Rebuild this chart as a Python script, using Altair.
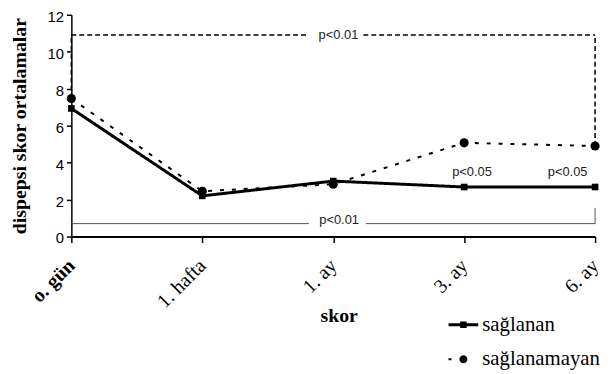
import json
import altair as alt
import pandas as pd

# ---- data ----
categories = ["o. gün", "1. hafta", "1. ay", "3. ay", "6. ay"]
series_names = ["sağlanan", "sağlanamayan"]
saglanan = [6.93, 2.2, 3.0, 2.68, 2.68]
saglanamayan = [7.47, 2.45, 2.83, 5.07, 4.9]
y_ticks = [0, 2, 4, 6, 8, 10, 12]

# significance brackets (x as category index, y in score units)
top_seg_x = [0.0, 2.23]
top_seg_x2 = [1.815, 4.0]
top_y = 10.9
top_vert_x = [0.0, 4.0]
top_vert_y = [7.47, 4.9]
bot_seg_x = [0.0, 2.25]
bot_seg_x2 = [1.815, 4.0]
bot_y = 0.7
bot_vert_x = [4.0]
bot_vert_y2 = [1.55]
p_text = ["p<0.01", "p<0.01", "p<0.05", "p<0.05"]
p_x = [2.04, 2.045, 3.06, 3.79]
p_y = [10.9, 0.9, 3.47, 3.47]

rows = []
for i, c in enumerate(categories):
    rows.append({"x": i, "skor": c, "series": series_names[0], "y": saglanan[i]})
    rows.append({"x": i, "skor": c, "series": series_names[1], "y": saglanamayan[i]})
df = pd.DataFrame(rows)

top_h = pd.DataFrame({"x": top_seg_x, "x2": top_seg_x2, "y": [top_y] * 2, "y2": [top_y] * 2})
top_v = pd.DataFrame({"x": top_vert_x, "x2": top_vert_x, "y": top_vert_y, "y2": [top_y] * 2})
bot_h = pd.DataFrame({"x": bot_seg_x, "x2": bot_seg_x2, "y": [bot_y] * 2, "y2": [bot_y] * 2})
bot_v = pd.DataFrame({"x": bot_vert_x, "x2": bot_vert_x, "y": [bot_y], "y2": bot_vert_y2})
ptxt = pd.DataFrame({"x": p_x, "y": p_y, "t": p_text})

label_expr = json.dumps(categories, ensure_ascii=False) + "[round(datum.value)]"

x_scale = alt.Scale(domain=[0, 4], nice=False, zero=False)
y_scale = alt.Scale(domain=[0, 12], nice=False, zero=False)

x_axis = alt.Axis(
    values=list(range(len(categories))),
    labelExpr=label_expr,
    labelAngle=-45,
    labelAlign="right",
    labelBaseline="middle",
    labelFont="Liberation Serif",
    labelFontSize=20,
    labelFontWeight=alt.expr("datum.value == 0 ? 'bold' : 'normal'"),
    labelColor="black",
    labelPadding=20,
    labelOverlap=False,
    labelBound=False,
    labelFlush=False,
    tickSize=6,
    tickWidth=1.5,
    tickColor="black",
    domainColor="black",
    domainWidth=2,
    grid=False,
    title="skor",
    titleFont="Liberation Serif",
    titleFontSize=20,
    titleFontWeight="bold",
    titleColor="black",
    titleBaseline="middle",
    titleAlign="center",
    titleX=270,
    titleY=80,
)
y_axis = alt.Axis(
    values=y_ticks,
    tickCount=len(y_ticks),
    labelFont="Liberation Sans",
    labelFontSize=15,
    labelColor="black",
    labelPadding=3,
    labelOffset=1.5,
    labelOverlap=False,
    labelBound=False,
    labelFlush=False,
    tickSize=5,
    tickWidth=1.5,
    tickColor="black",
    domainColor="black",
    domainWidth=1.5,
    grid=False,
    title="dispepsi skor ortalamalar",
    titleFont="Liberation Serif",
    titleFontSize=20,
    titleFontWeight="bold",
    titleColor="black",
    titlePadding=18,
)


def X(field="x"):
    return alt.X(f"{field}:Q", scale=x_scale, axis=x_axis)


def Y(field="y"):
    return alt.Y(f"{field}:Q", scale=y_scale, axis=y_axis)


base = alt.Chart(df)

lines = base.mark_line(color="black").encode(
    x=X(),
    y=Y(),
    detail="series:N",
    strokeDash=alt.StrokeDash(
        "series:N",
        scale=alt.Scale(domain=series_names, range=[[1, 0], [4, 8]]),
        legend=None,
    ),
    strokeWidth=alt.StrokeWidth(
        "series:N",
        scale=alt.Scale(domain=series_names, range=[3, 2]),
        legend=None,
    ),
)

points = base.mark_point(filled=True, color="black", opacity=1).encode(
    x=X(),
    y=Y(),
    shape=alt.Shape(
        "series:N",
        scale=alt.Scale(domain=series_names, range=["square", "circle"]),
        legend=None,
    ),
    size=alt.Size(
        "series:N",
        scale=alt.Scale(domain=series_names, range=[45, 85]),
        legend=None,
    ),
)

sym_line_square = (
    "M -1 -0.1 L 1 -0.1 L 1 0.1 L -1 0.1 Z "
    "M -0.22 -0.22 L 0.22 -0.22 L 0.22 0.22 L -0.22 0.22 Z"
)
sym_dash_circle = (
    "M -1 -0.07 L -0.8 -0.07 L -0.8 0.07 L -1 0.07 Z "
    "M 0.27 0 A 0.27 0.27 0 1 1 -0.27 0 A 0.27 0.27 0 1 1 0.27 0 Z"
)

legend_layer = base.mark_point(filled=True, color="black", opacity=0).encode(
    x=X(),
    y=Y(),
    shape=alt.Shape(
        "series:N",
        scale=alt.Scale(domain=series_names, range=[sym_line_square, sym_dash_circle]),
        legend=alt.Legend(
            orient="none",
            legendX=381,
            legendY=298,
            title=None,
            symbolSize=900,
            symbolFillColor="black",
            symbolStrokeWidth=0,
            symbolOpacity=1,
            labelFont="Liberation Serif",
            labelFontSize=21,
            labelColor="black",
            labelOffset=4,
            rowPadding=10,
            padding=0,
        ),
    ),
)

rule_style = dict(color="black", strokeWidth=1.5, strokeDash=[5, 3])
top_h_l = alt.Chart(top_h).mark_rule(**rule_style).encode(x=X(), x2="x2:Q", y=Y(), y2="y2:Q")
top_v_l = alt.Chart(top_v).mark_rule(**rule_style).encode(x=X(), x2="x2:Q", y=Y(), y2="y2:Q")
bot_style = dict(color="#555555", strokeWidth=1)
bot_h_l = alt.Chart(bot_h).mark_rule(**bot_style).encode(x=X(), x2="x2:Q", y=Y(), y2="y2:Q")
bot_v_l = alt.Chart(bot_v).mark_rule(**bot_style).encode(x=X(), x2="x2:Q", y=Y(), y2="y2:Q")

texts = alt.Chart(ptxt).mark_text(
    font="Liberation Sans", fontSize=13, color="#222222", align="center", baseline="middle"
).encode(x=X(), y=Y(), text="t:N")

chart = (
    alt.layer(lines, top_h_l, top_v_l, bot_h_l, bot_v_l, points, texts, legend_layer)
    .resolve_scale(shape="independent", size="independent")
    .properties(
        width=529,
        height=224,
        autosize=alt.AutoSizeParams(type="none"),
        padding={"left": 64, "top": 5, "right": 8, "bottom": 135},
        background="white",
    )
    .configure_view(stroke=None)
)

chart.save("out.html", embed_options={"renderer": "svg", "actions": False})
